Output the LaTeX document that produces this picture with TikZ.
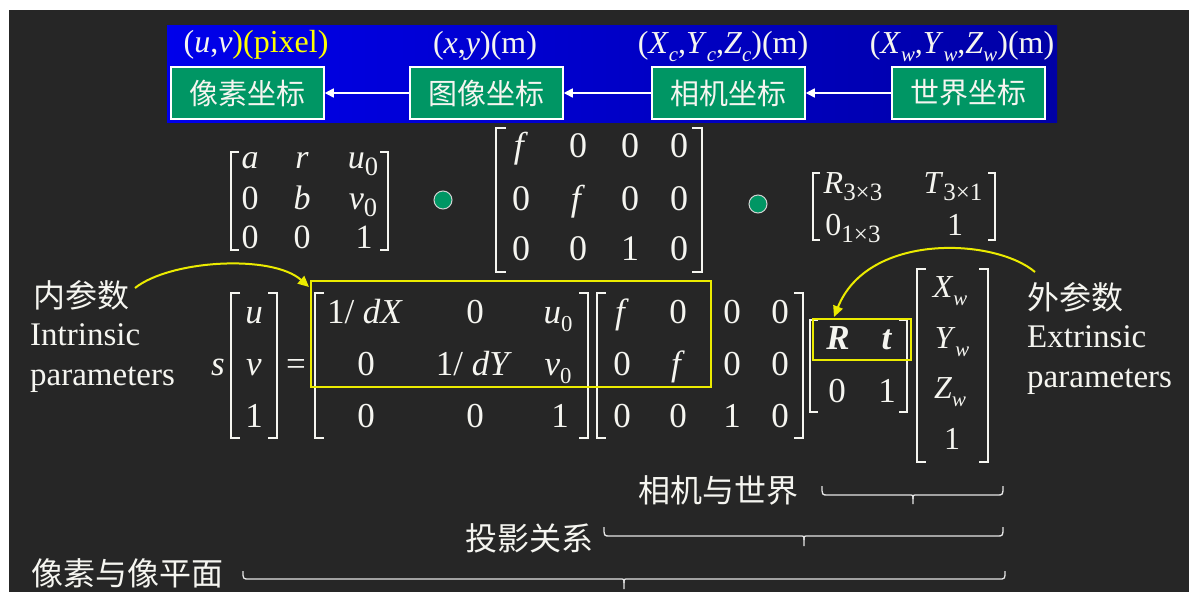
\documentclass[tikz,border=0pt]{standalone}
\usepackage{fontspec}
\setmainfont{Liberation Serif}
\newfontfamily\cjk{Noto Sans CJK SC}
\usetikzlibrary{arrows.meta}
\definecolor{bg}{RGB}{38,38,38}
\definecolor{gbox}{RGB}{0,150,100}
\definecolor{ylw}{RGB}{235,235,0}
\definecolor{ylt}{RGB}{255,255,0}
\definecolor{txt}{RGB}{245,245,240}
\definecolor{bll}{RGB}{0,0,235}
\definecolor{blr}{RGB}{0,0,165}
\definecolor{dotrim}{RGB}{210,210,210}
\definecolor{brcol}{RGB}{230,230,230}
\newcommand\lo[1]{\raisebox{-0.25em}{\scalebox{0.65}{#1}}}
\newcommand\los[1]{\raisebox{-0.22em}{\scalebox{0.78}{#1}}}
\newcommand\fs[1]{\fontsize{#1}{#1}\selectfont}
% bracket pair: x-left, x-right, y-top, y-bottom, tick
\newcommand\brpair[5]{%
  \draw[brk] ({#1+#5},#3) -- (#1,#3) -- (#1,#4) -- ({#1+#5},#4);
  \draw[brk] ({#2-#5},#3) -- (#2,#3) -- (#2,#4) -- ({#2-#5},#4);}
% flat brace: x1, x2, tipx, ytop, yline, ybottom
\newcommand\flatbrace[6]{%
  \draw[brc] (#1,#4) .. controls (#1,#5) .. ({#1+6},#5) -- ({#3-4},#5) .. controls (#3,#5) .. (#3,{#5+4}) -- (#3,#6);
  \draw[brc] (#2,#4) .. controls (#2,#5) .. ({#2-6},#5) -- ({#3+4},#5) .. controls (#3,#5) .. (#3,{#5+4});}
\begin{document}
\begin{tikzpicture}[x=1pt,y=-1pt,
  lbl/.style={text=txt, inner sep=0pt},
  ent/.style={text=txt, inner sep=0pt, anchor=base},
  gnode/.style={draw=white, line width=1.5pt, fill=gbox, text=txt, inner sep=0pt,
    minimum width=153pt, minimum height=52pt, font=\cjk\fs{29}},
  warr/.style={draw=white, line width=1.5pt, -{Triangle[length=9pt,width=9pt]}},
  yarr/.style={draw=ylw, line width=2pt, -{Triangle[length=11pt,width=10pt]}},
  ybox/.style={draw=ylw, line width=2pt, inner sep=0pt},
  gdot/.style={circle, fill=gbox, draw=dotrim, line width=1pt, minimum size=18pt, inner sep=0pt},
  brk/.style={draw=txt, line width=1.8pt},
  brc/.style={draw=brcol, line width=1.3pt},
  m1/.style={ent, font=\fs{34}},
  m2/.style={ent, font=\fs{36}},
  m3/.style={ent, font=\fs{32}},
  me/.style={ent, font=\fs{35}},
  mw/.style={ent, font=\fs{32}},
  cj/.style={lbl, font=\cjk\fs{32}},
  en/.style={lbl, font=\fs{33}, anchor=base west}]
\useasboundingbox (0,0) rectangle (1189,592);
\fill[white] (0,0) rectangle (1189,592);
\fill[bg] (9,10) rectangle (1189,592);
% blue band
\fill[left color=bll, right color=blr] (167,25) rectangle (1057,122);
% coordinate-system boxes
\node[gnode] (pix) at (247.5,93) {像素坐标};
\node[gnode] (img) at (486.5,93) {图像坐标};
\node[gnode] (cam) at (728.5,93) {相机坐标};
\node[gnode] (wld) at (968.5,93) {世界坐标};
\draw[warr] (img.west) -- (pix.east);
\draw[warr] (cam.west) -- (img.east);
\draw[warr] (wld.west) -- (cam.east);
% top labels
\node[lbl, anchor=base, font=\fs{32}] (lpix) at (256,52) {(\textit{u},\textit{v}\textcolor{ylt}{)(pixel)}};
\node[lbl, anchor=base, font=\fs{32}] (limg) at (485,53) {(\textit{x},\textit{y})(m)};
\node[lbl, anchor=base, font=\fs{32}] (lcam) at (723,53) {(\textit{X}\lo{\textit{c}},\textit{Y}\lo{\textit{c}},\textit{Z}\lo{\textit{c}})(m)};
\node[lbl, anchor=base, font=\fs{32}] (lwld) at (962,53) {(\textit{X}\lo{\textit{w}},\textit{Y}\lo{\textit{w}},\textit{Z}\lo{\textit{w}})(m)};
% ---- top matrix 1
\node[m1] (ta1) at (250,168) {\textit{a}};
\node[m1] (ta2) at (302,168) {\textit{r}};
\node[m1] (ta3) at (363,168) {\textit{u}\los{0}};
\node[m1] (ta4) at (250,209) {0};
\node[m1] (ta5) at (302,209) {\textit{b}};
\node[m1] (ta6) at (363,209) {\textit{v}\los{0}};
\node[m1] (ta7) at (250,248) {0};
\node[m1] (ta8) at (302,248) {0};
\node[m1] (ta9) at (364,248) {1};
\brpair{231}{388}{152}{250}{8}
\node[gdot] (dot1) at (443,200) {};
% ---- top matrix 2
\node[m2] (tb1) at (521,157) {\textit{f}};
\node[m2] (tb2) at (578,157) {0};
\node[m2] (tb3) at (630,157) {0};
\node[m2] (tb4) at (679,157) {0};
\node[m2] (tb5) at (521,210) {0};
\node[m2] (tb6) at (578,210) {\textit{f}};
\node[m2] (tb7) at (630,210) {0};
\node[m2] (tb8) at (679,210) {0};
\node[m2] (tb9) at (521,260) {0};
\node[m2] (tb10) at (578,260) {0};
\node[m2] (tb11) at (630,260) {1};
\node[m2] (tb12) at (679,260) {0};
\brpair{496}{702}{128}{272}{10}
\node[gdot] (dot2) at (758,204) {};
% ---- top matrix 3
\node[m3] (tc1) at (853,193) {\textit{R}\los{3×3}};
\node[m3] (tc2) at (953,193) {\textit{T}\los{3×1}};
\node[m3] (tc3) at (853,235) {0\los{1×3}};
\node[m3] (tc4) at (955,235) {1};
\brpair{813}{995}{173}{240}{7}
% ---- main equation
\node[me] (es) at (218,375) {\textit{s}};
\node[me] (ev1) at (254,323) {\textit{u}};
\node[me] (ev2) at (254,375) {\textit{v}};
\node[me] (ev3) at (254,427) {1};
\brpair{231}{277}{293}{438}{9}
\node[me] (eq) at (296,375) {=};
% intrinsic
\node[me] (k1) at (365,323) {1/ \textit{dX}};
\node[me] (k2) at (475,323) {0};
\node[me] (k3) at (558,323) {\textit{u}\lo{0}};
\node[me] (k4) at (366,375) {0};
\node[me] (k5) at (474,375) {1/ \textit{dY}};
\node[me] (k6) at (558,375) {\textit{v}\lo{0}};
\node[me] (k7) at (366,427) {0};
\node[me] (k8) at (475,427) {0};
\node[me] (k9) at (560,427) {1};
\brpair{315}{588}{293}{438}{9}
% projection
\node[me] (p1) at (622,323) {\textit{f}};
\node[me] (p2) at (678,323) {0};
\node[me] (p3) at (732,323) {0};
\node[me] (p4) at (780,323) {0};
\node[me] (p5) at (622,375) {0};
\node[me] (p6) at (678,375) {\textit{f}};
\node[me] (p7) at (732,375) {0};
\node[me] (p8) at (780,375) {0};
\node[me] (p9) at (622,427) {0};
\node[me] (p10) at (678,427) {0};
\node[me] (p11) at (732,427) {1};
\node[me] (p12) at (780,427) {0};
\brpair{597}{803}{293}{438}{9}
% extrinsic
\node[me] (r1) at (838,349) {\textbf{\textit{R}}};
\node[me] (r2) at (887,349) {\textbf{\textit{t}}};
\node[me] (r3) at (837,402) {0};
\node[me] (r4) at (887,402) {1};
\brpair{810}{907}{320}{412}{8}
% world vector
\node[mw] (w1) at (950,297) {\textit{X}\lo{\textit{w}}};
\node[mw] (w2) at (952,348) {\textit{Y}\lo{\textit{w}}};
\node[mw] (w3) at (950,398) {\textit{Z}\lo{\textit{w}}};
\node[mw] (w4) at (952,449) {1};
\brpair{917}{988}{269}{462}{9}
% yellow highlight boxes
\node[ybox, minimum width=400pt, minimum height=106pt] (intr) at (511,334) {};
\node[ybox, minimum width=98pt, minimum height=41pt] (extr) at (862,339.5) {};
% side labels
\node[cj, anchor=west] (nei) at (33,295) {内参数};
\node[en] (intr1) at (30,345) {Intrinsic};
\node[en] (intr2) at (30,385) {parameters};
\node[cj, anchor=west] (wai) at (1027,297) {外参数};
\node[en] (extr1) at (1027,347) {Extrinsic};
\node[en] (extr2) at (1027,387) {parameters};
% yellow curved arrows
\coordinate (a1s) at (135,288);
\coordinate (a1e) at (309,287);
\draw[yarr] (a1s) .. controls (170,260) and (272,254) .. (a1e);
\coordinate (a2s) at (1035,272);
\coordinate (a2e) at (834,317);
\draw[yarr] (a2s) .. controls (995,238) and (868,232) .. (a2e);
% bottom labels and braces
\node[cj, anchor=west] (bw1) at (638,490) {相机与世界};
\node[cj, anchor=west] (bw2) at (465,538) {投影关系};
\node[cj, anchor=west] (bw3) at (31,573) {像素与像平面};
\flatbrace{822}{1003}{913}{486}{495}{504}
\flatbrace{604}{1003}{804}{527}{536}{546}
\flatbrace{243}{1005}{624}{571}{579}{589}
\end{tikzpicture}
\end{document}
